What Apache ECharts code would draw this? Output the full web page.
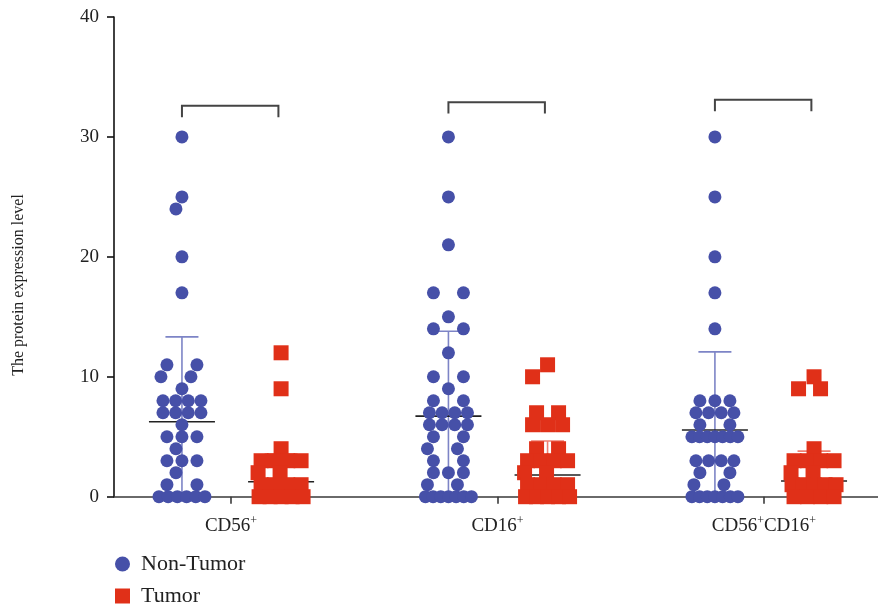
<!DOCTYPE html>
<html>
<head>
<meta charset="utf-8">
<script src="https://cdn.jsdelivr.net/npm/echarts@6/dist/echarts.min.js"></script>
<style>
  html, body { margin: 0; padding: 0; background: #fff; }
  #chart { width: 878px; height: 611px; }
</style>
</head>
<body>
<div id="chart"></div>
<script>
// ---- data ----
const categories = ['CD56+', 'CD16+', 'CD56+CD16+'];
const yTicks = [0, 10, 20, 30, 40];
const seriesNames = ['Non-Tumor', 'Tumor'];

// individual measurements per marker group
const nonTumorCD56 = [30, 25, 24, 20, 17, 11, 11, 10, 10, 9, 8, 8, 8, 8, 7, 7, 7, 7, 6, 5, 5, 5, 4, 3, 3, 3, 2, 1, 1, 0, 0, 0, 0, 0, 0];
const nonTumorCD16 = [30, 25, 21, 17, 17, 15, 14, 14, 12, 10, 10, 9, 8, 8, 7, 7, 7, 7, 6, 6, 6, 6, 5, 5, 4, 4, 3, 3, 2, 2, 2, 1, 1, 0, 0, 0, 0, 0, 0, 0];
const nonTumorCD56CD16 = [30, 25, 20, 17, 14, 8, 8, 8, 7, 7, 7, 7, 6, 6, 5, 5, 5, 5, 5, 5, 5, 3, 3, 3, 3, 2, 2, 1, 1, 0, 0, 0, 0, 0, 0, 0];
const tumorCD56 = [12, 9, 4, 3, 3, 3, 3, 2, 2, 1, 1, 1, 1, 0, 0, 0, 0, 0];
const tumorCD16 = [11, 10, 7, 7, 6, 6, 6, 4, 4, 3, 3, 3, 3, 2, 2, 1, 1, 1, 1, 0, 0, 0, 0, 0];
const tumorCD56CD16 = [10, 9, 9, 4, 3, 3, 3, 3, 2, 2, 1, 1, 1, 1, 1, 0, 0, 0, 0];

// summary lines: mean and standard deviation
const nonTumorMean = [6.25, 6.72, 5.56];
const nonTumorSD = [7.08, 7.08, 6.52];
const tumorMean = [1.25, 1.81, 1.31];
const tumorSD = [2.31, 2.83, 2.49];

// comparison bracket heights
const bracketLevel = [32.6, 32.9, 33.1];
const bracketDrop = 0.95;

// ---- styling ----
const SERIF = '"Liberation Serif", "Times New Roman", serif';
const BLUE = '#4650a8';
const RED = '#e03018';
const BLUE_BAR = '#7d84c6';
const RED_BAR = '#ef7f72';
const NT_OFFSET = -0.184;
const T_OFFSET = 0.188;
const X_MIN = 0.561, X_MAX = 3.428;
// row widths (px, centre to centre) by number of equal values in a row
const NT_ROW_SPAN = [0, 0, 30, 30, 38, 46];
const T_ROW_SPAN = [0, 0, 22, 30, 40, 44];

const nonTumorGroups = [nonTumorCD56, nonTumorCD16, nonTumorCD56CD16];
const tumorGroups = [tumorCD56, tumorCD16, tumorCD56CD16];

function catLabel(name) {
  // render "+" as a superscript
  return name.split('+').filter(s => s.length).map(s => '{n|' + s + '}{s|+}').join('');
}

const chart = echarts.init(document.getElementById('chart'), null, { renderer: 'canvas' });

function summaryRender(color) {
  return function (params, api) {
    const x = api.value(0), m = api.value(1), sd = api.value(2);
    const top = api.coord([x, m + sd]);
    const mid = api.coord([x, m]);
    const bot = api.coord([x, Math.max(0, m - sd)]);
    const bar = { stroke: color, lineWidth: 1.6 };
    return {
      type: 'group',
      children: [
        { type: 'line', shape: { x1: top[0], y1: top[1], x2: bot[0], y2: bot[1] }, style: bar },
        { type: 'line', shape: { x1: top[0] - 16.5, y1: top[1], x2: top[0] + 16.5, y2: top[1] }, style: bar },
        { type: 'line', shape: { x1: mid[0] - 33, y1: mid[1], x2: mid[0] + 33, y2: mid[1] }, style: { stroke: '#222', lineWidth: 1.6 } }
      ]
    };
  };
}

const baseOption = {
  animation: false,
  backgroundColor: '#fff',
  grid: { left: 114, right: 0, top: 17, bottom: 114.3, containLabel: false },
  xAxis: {
    type: 'value', min: X_MIN, max: X_MAX,
    splitLine: { show: false },
    axisLine: { show: true, lineStyle: { color: '#3a3a3a', width: 1.6 } },
    axisTick: { show: true, customValues: [1, 2, 3], length: 7, lineStyle: { color: '#3a3a3a', width: 1.6 } },
    axisLabel: {
      show: true, customValues: [1, 2, 3], margin: 18,
      formatter: v => catLabel(categories[Math.round(v) - 1]),
      rich: {
        n: { fontFamily: SERIF, fontSize: 19, color: '#222', lineHeight: 22 },
        s: { fontFamily: SERIF, fontSize: 12, color: '#222', verticalAlign: 'top', lineHeight: 12 }
      }
    }
  },
  yAxis: {
    type: 'value', min: 0, max: 40, interval: 10,
    splitLine: { show: false },
    axisLine: { show: true, lineStyle: { color: '#111', width: 1.6 } },
    axisTick: { show: true, length: 7, lineStyle: { color: '#111', width: 1.6 } },
    axisLabel: {
      margin: 15, fontFamily: SERIF, fontSize: 19, color: '#222',
      formatter: v => (yTicks.indexOf(v) >= 0 ? String(v) : '')
    }
  },
  legend: {
    orient: 'vertical', left: 110, top: 548, height: 60,
    itemWidth: 15, itemHeight: 15, itemGap: 10,
    textStyle: { fontFamily: SERIF, fontSize: 22, color: '#222', lineHeight: 18, padding: [0, 0, 0, 6] },
    data: [{ name: seriesNames[0], icon: 'circle' }, { name: seriesNames[1], icon: 'rect' }]
  },
  graphic: [{
    type: 'text', x: 19, y: 285, rotation: Math.PI / 2,
    style: {
      text: 'The protein expression level', font: '16px ' + SERIF,
      fill: '#222', align: 'center', verticalAlign: 'middle'
    }
  }],
  series: []
};

chart.setOption(baseOption);

// pixel scale of both axes
const p0 = chart.convertToPixel({ gridIndex: 0 }, [1, 0]);
const p1 = chart.convertToPixel({ gridIndex: 0 }, [2, 10]);
const pxX = p1[0] - p0[0];
const pxY = (p0[1] - p1[1]) / 10;

// column scatter layout: equal values share a row, sparse rows slide sideways to avoid overlap
function swarm(values, center, size, rowSpan, square) {
  const rows = {};
  values.forEach(v => { (rows[v] = rows[v] || []).push(v); });
  const levels = Object.keys(rows).map(Number).sort((a, b) => b - a);
  const placed = [];
  const out = [];
  levels.forEach(lv => {
    const n = rows[lv].length;
    const span = rowSpan[Math.min(n, rowSpan.length - 1)];
    const step = n > 1 ? span / (n - 1) : 0;
    const base = [];
    for (let i = 0; i < n; i++) base.push((i - (n - 1) / 2) * step);
    const y = lv * pxY;
    let best = 0;
    if (n <= 2) {
      let bestCost = Infinity;
      for (let k = 0; k <= 14; k++) {
        for (const sign of [-1, 1]) {
          const c = sign * k * 1.5;
          let cost = Math.abs(c) * 0.05;
          base.forEach(b => placed.forEach(p => {
            const dx = Math.abs(b + c - p[0]), dy = Math.abs(y - p[1]);
            const d = square ? Math.max(dx, dy) : Math.hypot(dx, dy);
            if (d < size) cost += size - d;
          }));
          if (cost < bestCost - 1e-9) { bestCost = cost; best = c; }
        }
      }
    }
    base.forEach(b => {
      placed.push([b + best, y]);
      out.push([center + (b + best) / pxX, lv]);
    });
  });
  return out;
}

const ntPoints = [], tPoints = [];
nonTumorGroups.forEach((g, i) => swarm(g, i + 1 + NT_OFFSET, 13, NT_ROW_SPAN, false).forEach(p => ntPoints.push(p)));
tumorGroups.forEach((g, i) => swarm(g, i + 1 + T_OFFSET, 15, T_ROW_SPAN, true).forEach(p => tPoints.push(p)));

const ntSummary = categories.map((c, i) => [i + 1 + NT_OFFSET, nonTumorMean[i], nonTumorSD[i]]);
const tSummary = categories.map((c, i) => [i + 1 + T_OFFSET, tumorMean[i], tumorSD[i]]);
const brackets = categories.map((c, i) => [i + 1 + NT_OFFSET, i + 1 + T_OFFSET - 0.01, bracketLevel[i]]);

chart.setOption({
  series: [
    {
      type: 'custom', name: 'nt-summary', silent: true, z: 1,
      renderItem: summaryRender(BLUE_BAR), data: ntSummary
    },
    {
      type: 'custom', name: 't-summary', silent: true, z: 1,
      renderItem: summaryRender(RED_BAR), data: tSummary
    },
    {
      type: 'custom', name: 'brackets', silent: true, z: 1,
      renderItem: function (params, api) {
        const a = api.coord([api.value(0), api.value(2)]);
        const b = api.coord([api.value(1), api.value(2)]);
        const drop = api.coord([api.value(0), api.value(2) - bracketDrop])[1];
        return {
          type: 'polyline',
          shape: { points: [[a[0], drop], a, b, [b[0], drop]] },
          style: { stroke: '#444', lineWidth: 2, fill: null }
        };
      },
      data: brackets
    },
    {
      type: 'scatter', name: seriesNames[0], symbol: 'circle', symbolSize: 13, z: 3,
      itemStyle: { color: BLUE, opacity: 1 }, data: ntPoints
    },
    {
      type: 'scatter', name: seriesNames[1], symbol: 'rect', symbolSize: 15, z: 3,
      itemStyle: { color: RED, opacity: 1 }, data: tPoints
    }
  ]
});
</script>
</body>
</html>
